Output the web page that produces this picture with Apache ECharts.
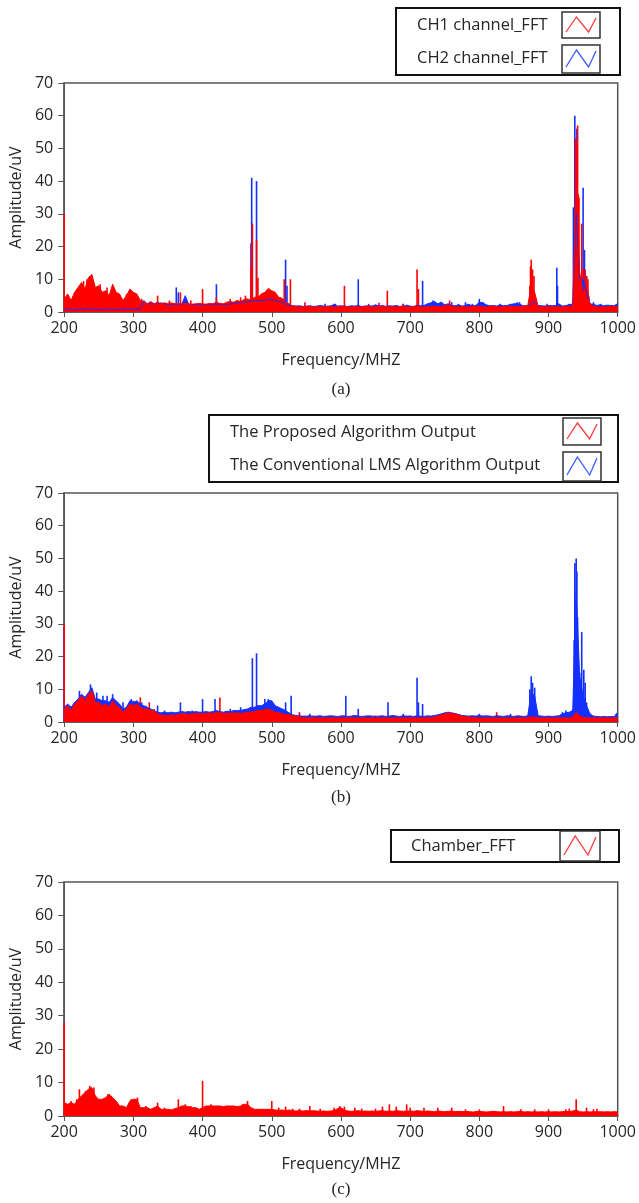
<!DOCTYPE html>
<html><head><meta charset="utf-8">
<script src="https://cdn.jsdelivr.net/npm/echarts@6/dist/echarts.min.js"></script>
<style>html,body{margin:0;padding:0;background:#fff}#c{width:639px;height:1203px}</style>
</head><body><div id="c"></div>
<script>
// ---------------- DATA ----------------
const FREQ_START = 200;   // MHz, first floor sample
const FREQ_STEP = 5;      // MHz between floor samples
const xTickValues = [200, 300, 400, 500, 600, 700, 800, 900, 1000];
const yTickValues = [0, 10, 20, 30, 40, 50, 60, 70];

const legendA = ['CH1 channel_FFT', 'CH2 channel_FFT'];
const legendB = ['The Proposed Algorithm Output', 'The Conventional LMS Algorithm Output'];
const legendC = ['Chamber_FFT'];
const captions = ['(a)', '(b)', '(c)'];

// (a) CH1 channel_FFT floor, 200..1000 MHz every 5 MHz
const aCh1Floor = [
 4,5.5,3.5,6,7.5,9,7,10.5,11.5,7.5,
 8,6,6.5,5,8.5,6,5.5,3.5,5,7,
 6,5.5,3.5,3,2.5,3.2,2.5,3,2.5,2.8,
 2.5,2.8,2.5,2.5,2.5,2.7,2.5,2.4,2.5,2.6,
 2.5,2.4,2.6,2.5,3,2.6,2.5,3,3.2,3,
 3.5,3.2,3.8,4,3.6,4.5,4.5,5.5,6,7.2,
 6.5,6,4.5,4.2,3,2.5,1.8,1.8,1.5,1.7,
 1.6,1.8,1.5,1.6,1.7,1.5,1.8,1.6,1.5,1.7,
 1.6,1.8,1.6,1.5,1.7,1.6,1.5,1.8,1.6,1.5,
 1.7,1.6,1.8,1.5,1.6,1.7,1.5,1.6,1.8,1.6,
 1.5,1.7,1.8,1.6,1.5,1.7,1.6,1.8,1.7,1.6,
 2,2.2,1.8,1.6,1.5,1.7,1.6,1.5,1.7,1.6,
 1.8,1.6,1.5,1.7,1.8,1.6,1.5,1.7,1.6,1.8,
 1.6,1.7,1.5,1.8,2,8,6,1.8,1.6,1.5,
 1.6,1.5,1.7,1.6,1.5,1.8,1.6,2,40,12,
 6,8,2.5,1.8,1.6,1.5,1.6,1.5,1.7,1.6,
 1.8
];
const aCh1Spikes = [[200,30],[215,6],[228,9.5],[233,10],[252,8.5],[262,7.5],[290,5.5],[312,4],[335,5],[352,3.5],
 [368,6],[383,3.5],[400,7],[420,4.5],[440,4],[455,4.5],[462,5],[470,14],[471,21],[472,27],[478,22],[480,10.5],
 [518,10],[527,10],[548,3],[590,2.5],[605,8],[640,2.5],[655,2.8],[667,6.5],[690,2.5],[710,13],[712,7],[740,2.5],
 [757,3.5],[770,2.5],[790,2.5],[830,2.5],[845,2.5],[860,2.5],[873,8],[874,14],[875,16],[877,13],[879,11],[898,2.5],
 [938,27],[939,53],[940,52],[942,57],[943,36],[944,35],[948,27],[950,13],[953,13],[955,11],[957,10]];

// (a) CH2 channel_FFT floor
const aCh2Floor = [
 1,0.8,0.8,0.6,0.8,1,0.7,0.9,0.8,0.7,
 0.8,0.7,0.9,0.8,0.7,0.8,0.7,0.8,0.9,0.8,
 0.8,0.9,1,3.5,2.5,2.5,2.5,2.5,2.8,2.5,
 2.3,2.3,2.5,2.3,2.4,5,2.3,2.2,2.3,2.3,
 2.3,2.2,2.4,2.3,2.5,2.3,2.4,2.3,2.5,2.6,
 2.8,3,3,3.2,3.3,3.5,3.5,3.5,3.6,3.8,
 3.8,3.5,3.2,3,2.5,2,1.9,1.8,1.9,1.7,
 1.8,1.9,1.7,1.8,2,1.8,1.7,1.9,2.2,1.8,
 1.9,1.8,1.7,1.9,1.8,2,1.7,1.8,1.9,1.8,
 2.2,1.8,2,1.7,1.9,1.8,2,1.7,1.8,2.1,
 1.8,1.7,2,1.9,2,2.5,2.8,3.2,2.5,3,
 2.2,2.5,2,1.9,2.2,1.8,2,2.3,1.9,2,
 3,2.8,2.2,1.9,2,1.8,2.2,1.9,2,2.3,
 2.5,2.6,2,1.9,2,2.5,3,2,1.9,1.8,
 2,1.9,2,2.5,1.8,2,2.2,2.5,30,10,
 10,6,2.5,2.3,2,2.2,1.9,2.1,2,1.9,
 2.5
];
const aCh2Spikes = [[362,7.5],[365,6],[420,8.5],[470,21],[471,41],[478,40],[520,16],[522,8],[577,2.5],[592,2.5],
 [625,10],[690,2.5],[718,9.5],[733,3.5],[745,3],[760,3],[780,3],[783,2.5],[800,4],[805,3],[855,3],[858,3],[880,2.5],
 [912,13.5],[913,8],[930,2.5],[936,32],[938,60],[941,56],[950,38],[952,19],[955,11],[958,5],[965,3],[975,2.5],[998,2.5]];

// (b) The Proposed Algorithm Output floor
const bPropFloor = [
 4,5,3.5,5.5,6.5,8,6.5,8.5,9.5,6,
 6,5,5.5,4.5,6.5,5,4.5,3,4,5.5,
 5,5.5,4.5,4,4,3.5,3.5,2.5,2.2,2,
 2,2.2,2,2.3,2.5,2.5,2.3,2.5,2.6,2.5,
 2.5,2.6,2.8,2.5,3,2.8,2.7,2.6,2.8,2.7,
 2.8,2.6,2.8,3,3,3.2,3.5,3.5,3.8,4,
 3.5,3,2.8,2.5,2.3,2.2,2,1.8,1.5,1.4,
 1.3,1.2,1.3,1.2,1.3,1.2,1.3,1.2,1.3,1.2,
 1.2,1.3,1.2,1.3,1.2,1.3,1.2,1.3,1.2,1.3,
 1.2,1.3,1.2,1.3,1.2,1.3,1.2,1.3,1.2,1.3,
 1.2,1.3,1.2,1.3,1.2,1.4,1.3,1.5,1.8,2.2,
 2.5,2.8,2.6,2.5,2.2,1.8,1.6,1.5,1.4,1.3,
 1.3,1.2,1.3,1.2,1.3,1.2,1.3,1.2,1.3,1.2,
 1.3,1.2,1.3,1.2,1.3,1.5,1.5,1.3,1.2,1.3,
 1.2,1.3,1.2,1.3,1.2,1.3,1.2,1.5,3,1.8,
 1.4,1.3,1.2,1.3,1.2,1.3,1.2,1.3,1.2,1.3,
 1.3
];
const bPropSpikes = [[200,30],[215,5.5],[228,8],[258,6.5],[300,6.5],[305,6],[310,7.5],[318,5],[323,6],[330,4],
 [425,7.5],[448,3.5],[540,3],[560,2],[600,2],[650,2],[700,2],[825,3],[880,2],[940,4.5],[960,2]];

// (b) The Conventional LMS Algorithm Output floor
const bLmsFloor = [
 4.5,5.5,4.5,6,7,8.5,7.5,9,10.5,7,
 7,6.5,6.5,6,7.5,6.5,5.5,4,4.5,6.5,
 6,6.5,5.5,5,4.5,4,3.5,3,2.8,3,
 2.8,3,2.8,3,3.2,3,3.2,3,3.2,3,
 3,3.2,3,3.2,3.5,3.2,3,3.3,3.2,3.5,
 3.5,3.5,3.8,4,4.5,4.5,5,5,5.5,6.5,
 6.5,5,4.5,4,3.5,2.8,2.2,2,1.8,1.8,
 1.8,1.9,1.7,1.8,1.9,1.7,1.8,1.9,1.8,1.7,
 1.8,1.9,1.7,1.8,2,1.8,1.7,1.8,1.9,1.8,
 1.7,1.8,1.9,1.7,1.8,2,1.8,1.7,1.9,1.8,
 1.8,1.7,1.9,1.8,1.7,1.9,1.8,2,2.2,2.5,
 2.8,3,2.8,2.6,2.3,2,1.9,1.8,1.9,1.8,
 2,1.8,1.9,1.8,1.7,1.9,1.8,1.7,1.9,1.8,
 1.7,1.9,1.8,1.7,1.9,9,8,1.9,1.8,1.7,
 1.8,1.7,1.8,1.9,2.5,2.8,3,3.5,40,14,
 8,5,2.5,1.8,1.7,1.6,1.7,1.6,1.7,1.6,
 3
];
const bLmsSpikes = [[200,29],[222,9.5],[238,11.5],[247,9],[256,8],[262,8],[270,8.5],[285,6],[297,7],[312,6],[335,5],
 [345,3.5],[368,6],[385,3.5],[400,7],[418,7],[440,4],[455,4.5],[472,19.5],[478,21],[490,7],[495,7],[520,6],[528,8],
 [540,2.5],[555,2.5],[607,8],[625,4],[668,6],[690,2.5],[710,13.5],[712,6],[718,5.5],[800,2.5],[845,2.5],[873,10],
 [875,14],[877,12],[880,10.5],[920,3],[925,3.5],[935,4],[937,25],[938,48.5],[940,50],[941,46],[942,32],[945,15],
 [948,27.5],[951,16],[953,12],[955,6],[998,2.5]];

// (c) Chamber_FFT floor
const cChamberFloor = [
 4,3.5,4,3.5,5,6,7,8,8.5,6,
 5,5,5.5,6.5,5.5,4.5,3,3,2.5,4.5,
 5,5,2.5,2.5,2.5,2,2.5,3,2,2,
 2,1.8,2.2,2.5,3,3,2.8,2.5,2.5,2,
 2.5,3,3,3,3,3,2.8,3,3,3,
 2.8,3,3.5,3.5,2.5,2,2,2,2,2,
 2,1.8,1.7,1.8,1.6,1.8,1.6,1.5,1.6,1.5,
 1.6,1.5,1.6,1.5,1.4,1.5,1.4,1.5,1.6,2.2,
 2.5,1.8,1.5,1.4,1.5,1.6,1.4,1.5,1.4,1.5,
 1.4,1.5,1.6,1.4,1.5,1.4,1.6,1.5,1.4,1.5,
 1.5,1.4,1.6,1.5,1.4,1.5,1.4,1.3,1.5,1.4,
 1.3,1.4,1.5,1.3,1.4,1.3,1.4,1.3,1.2,1.3,
 1.4,1.3,1.2,1.3,1.4,1.3,1.2,1.3,1.2,1.3,
 1.2,1.3,1.4,1.2,1.3,1.2,1.3,1.2,1.3,1.2,
 1.3,1.2,1.3,1.2,1.3,1.4,1.3,1.5,1.8,1.3,
 1.2,1.3,1.2,1.3,1.2,1.3,1.2,1.3,1.2,1.3,
 1.2
];
const cChamberSpikes = [[200,28],[210,4.5],[218,5],[222,8],[231,7.5],[237,9],[243,8.5],[263,6.5],[268,6],[297,5],
 [306,5.5],[318,3],[335,4],[345,2.5],[365,5],[375,3.5],[383,3],[400,10.5],[412,3.5],[432,3],[448,3],[458,3.5],
 [465,4.5],[500,4.5],[510,2.5],[520,2.8],[530,2.2],[540,2.2],[555,3],[570,2.2],[590,2.5],[598,3],[605,2.8],[620,2.5],
 [630,2.2],[650,2.2],[660,2.8],[670,3.5],[680,2.8],[695,3.5],[700,2.5],[720,2.5],[740,2.5],[760,2.5],[780,2],[800,2],
 [835,3],[860,2],[880,2],[900,2],[925,2],[930,2.2],[940,5],[955,2.5],[965,2],[970,2.2]];

// ---------------- CHART ----------------
const RED = '#ff0000', BLUE = '#1430ff';
const toXY = arr => arr.map((v, i) => [FREQ_START + i * FREQ_STEP, v]);

const grids = [
  {left: 63, top: 83, width: 558, height: 229},
  {left: 63, top: 493, width: 558, height: 229},
  {left: 63, top: 882, width: 558, height: 234}
];
const TXT = '#262626';
const tickFont = {fontFamily: 'Open Sans', fontSize: 16, color: TXT};

const option = {
  animation: false,
  backgroundColor: '#fff',
  grid: grids.map(g => Object.assign({show: true, borderColor: '#555', borderWidth: 1.5, backgroundColor: '#fff'}, g)),
  xAxis: grids.map((g, i) => ({
    gridIndex: i, type: 'value', min: xTickValues[0], max: xTickValues[xTickValues.length - 1],
    interval: xTickValues[1] - xTickValues[0],
    name: 'Frequency/MHZ', nameLocation: 'middle', nameGap: 40,
    nameTextStyle: {fontFamily: 'Open Sans', fontSize: 16, color: TXT},
    axisLine: {show: true, lineStyle: {color: '#555', width: 1.5}},
    axisTick: {show: true, length: 5, lineStyle: {color: '#555'}},
    axisLabel: Object.assign({margin: 8, formatter: v => String(v)}, tickFont),
    splitLine: {show: false}
  })),
  yAxis: grids.map((g, i) => ({
    gridIndex: i, type: 'value', min: yTickValues[0], max: yTickValues[yTickValues.length - 1],
    interval: yTickValues[1] - yTickValues[0],
    name: 'Amplitude/uV', nameLocation: 'middle', nameGap: 40,
    nameTextStyle: {fontFamily: 'Open Sans', fontSize: 16, color: TXT},
    axisLine: {show: true, lineStyle: {color: '#555', width: 1.5}},
    axisTick: {show: true, length: 6, lineStyle: {color: '#555'}},
    axisLabel: Object.assign({margin: 11}, tickFont),
    splitLine: {show: false}
  })),
  series: []
};

function addSeries(idx, name, floor, spikes, color) {
  option.series.push({
    name: name, type: 'line', xAxisIndex: idx, yAxisIndex: idx, data: toXY(floor),
    symbol: 'none', lineStyle: {color: color, width: 1}, areaStyle: {color: color, opacity: 1},
    itemStyle: {color: color}
  });
  option.series.push({
    name: name, type: 'bar', xAxisIndex: idx, yAxisIndex: idx, data: spikes,
    barWidth: 1.6, barGap: '-100%', itemStyle: {color: color}
  });
}
addSeries(0, legendA[1], aCh2Floor, aCh2Spikes, BLUE);
addSeries(0, legendA[0], aCh1Floor, aCh1Spikes, RED);
addSeries(1, legendB[1], bLmsFloor, bLmsSpikes, BLUE);
addSeries(1, legendB[0], bPropFloor, bPropSpikes, RED);
addSeries(2, legendC[0], cChamberFloor, cChamberSpikes, RED);

// ---------------- LEGEND BOXES & CAPTIONS (graphic) ----------------
const graphics = [];
function legendBox(box, items) {
  graphics.push({type: 'rect', shape: {x: box.x, y: box.y, width: box.w, height: box.h},
    style: {fill: '#fff', stroke: '#111', lineWidth: 2}, z: 10});
  items.forEach(it => {
    graphics.push({type: 'text', x: it.tx, y: it.ty, z: 11,
      style: {text: it.label, fontFamily: 'Open Sans', fontSize: 16.5, fill: TXT, textVerticalAlign: 'middle'}});
    const s = it.sw;
    graphics.push({type: 'rect', shape: {x: s.x, y: s.y, width: s.w, height: s.h},
      style: {fill: '#fff', stroke: '#333', lineWidth: 1.5}, z: 11});
    graphics.push({type: 'polyline', z: 12, shape: {points: [
        [s.x + 4, s.y + s.h - 6], [s.x + s.w * 0.38, s.y + 5], [s.x + s.w * 0.7, s.y + s.h - 6], [s.x + s.w - 4, s.y + 6]]},
      style: {stroke: it.color, lineWidth: 1.3, fill: null}});
  });
}
legendBox({x: 396, y: 8, w: 224, h: 67}, [
  {label: legendA[0], tx: 417, ty: 25, color: '#ff3b3b', sw: {x: 562, y: 12, w: 38, h: 26}},
  {label: legendA[1], tx: 417, ty: 58, color: '#3a5cff', sw: {x: 562, y: 45, w: 38, h: 28}}
]);
legendBox({x: 209, y: 415, w: 409, h: 67}, [
  {label: legendB[0], tx: 230, ty: 432, color: '#ff3b3b', sw: {x: 563, y: 418, w: 38, h: 27}},
  {label: legendB[1], tx: 230, ty: 465, color: '#3a5cff', sw: {x: 563, y: 452, w: 38, h: 29}}
]);
legendBox({x: 391, y: 830, w: 228, h: 32}, [
  {label: legendC[0], tx: 411, ty: 846, color: '#ff3b3b', sw: {x: 560, y: 831, w: 40, h: 30}}
]);
[390, 798, 1190].forEach((y, i) => graphics.push({type: 'text', x: 341, y: y, z: 11,
  style: {text: captions[i], fontFamily: 'Liberation Serif', fontSize: 17, fill: '#222', textAlign: 'center', textVerticalAlign: 'middle'}}));
option.graphic = graphics;

const chart = echarts.init(document.getElementById('c'));
chart.setOption(option);
</script>
</body></html>
